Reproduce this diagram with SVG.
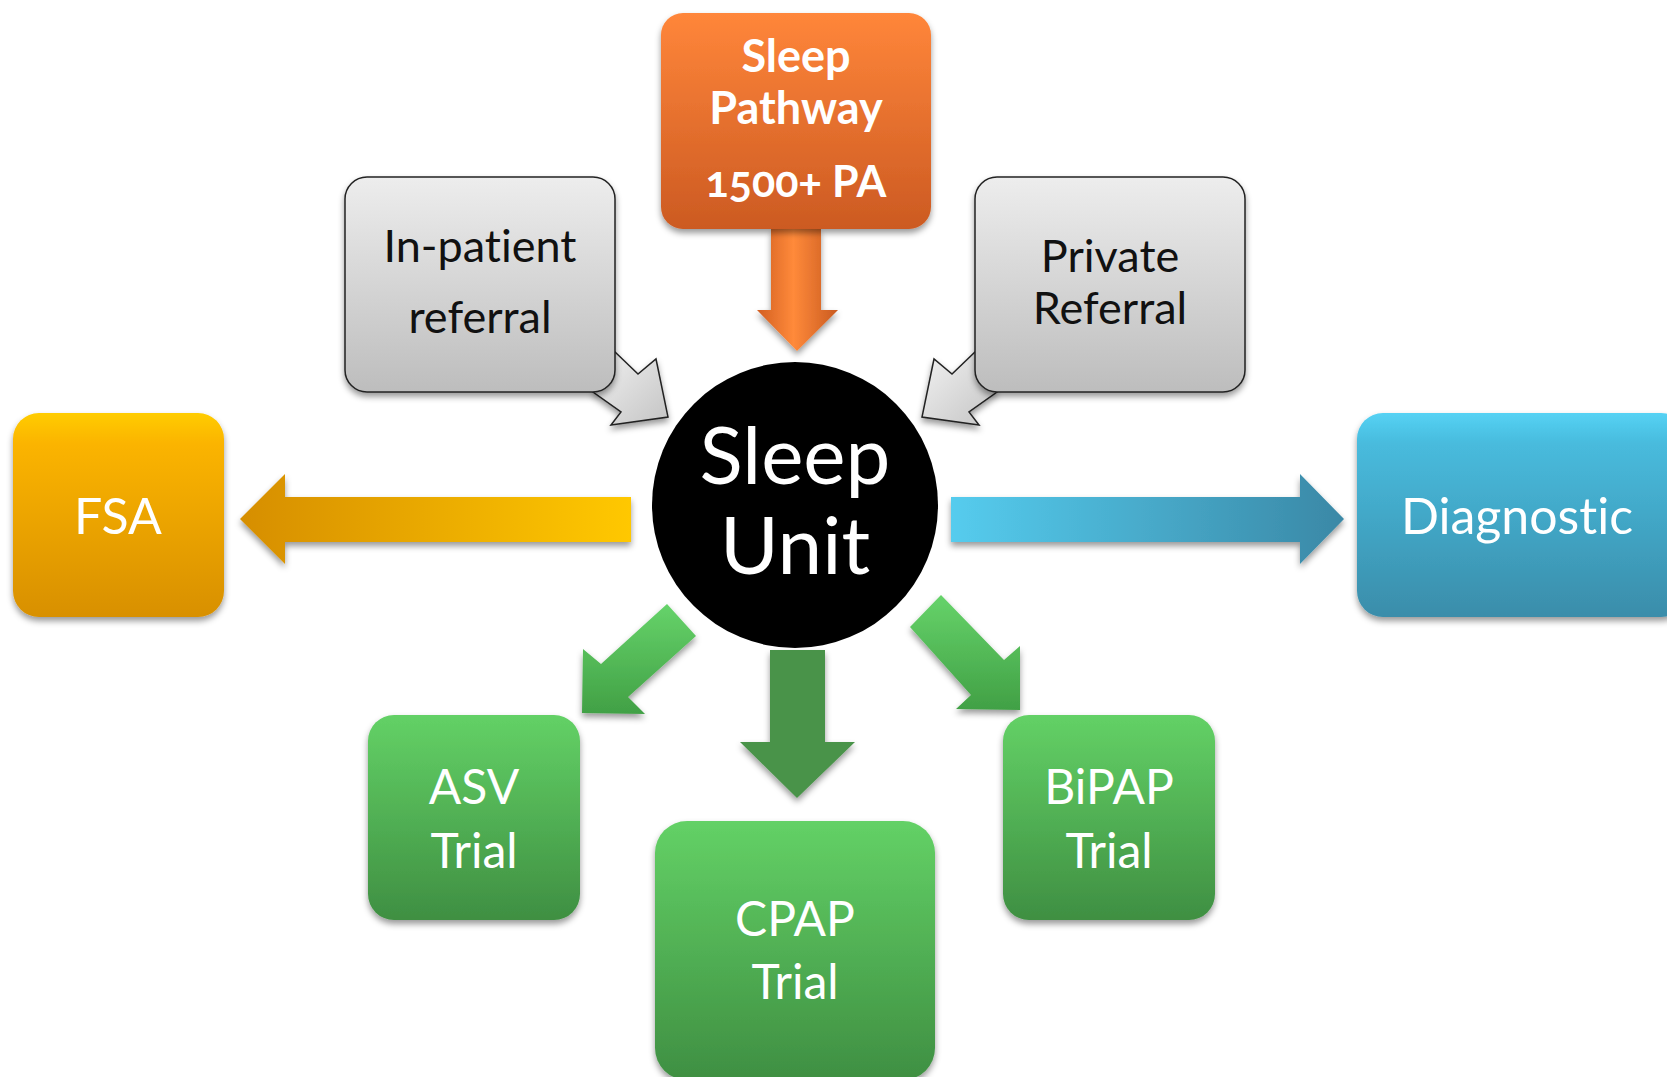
<svg xmlns="http://www.w3.org/2000/svg" width="1667" height="1077" viewBox="0 0 1667 1077">
  <defs>
    <linearGradient id="gOrange" x1="0" y1="0" x2="0" y2="1">
      <stop offset="0" stop-color="#FF863A"/>
      <stop offset="1" stop-color="#CC5A22"/>
    </linearGradient>
    <linearGradient id="gOrangeArrow" x1="0" y1="0" x2="1" y2="0">
      <stop offset="0" stop-color="#D25E22"/>
      <stop offset="0.45" stop-color="#FF8A3A"/>
      <stop offset="1" stop-color="#C95A20"/>
    </linearGradient>
    <linearGradient id="gGray" x1="0" y1="0" x2="0" y2="1">
      <stop offset="0" stop-color="#EDEDED"/>
      <stop offset="1" stop-color="#BDBDBD"/>
    </linearGradient>
    <linearGradient id="gGrayArrow" x1="0" y1="0" x2="1" y2="1">
      <stop offset="0" stop-color="#F2F2F2"/>
      <stop offset="1" stop-color="#C4C4C4"/>
    </linearGradient>
    <linearGradient id="gGold" x1="0" y1="0" x2="0" y2="1">
      <stop offset="0" stop-color="#FFCC00"/>
      <stop offset="0.15" stop-color="#FBB400"/>
      <stop offset="1" stop-color="#D89000"/>
    </linearGradient>
    <linearGradient id="gGoldArrow" x1="0" y1="0" x2="1" y2="0">
      <stop offset="0" stop-color="#D68E00"/>
      <stop offset="1" stop-color="#FFC800"/>
    </linearGradient>
    <linearGradient id="gBlue" x1="0" y1="0" x2="0" y2="1">
      <stop offset="0" stop-color="#55D2F4"/>
      <stop offset="0.15" stop-color="#48BBDD"/>
      <stop offset="1" stop-color="#3A8DAA"/>
    </linearGradient>
    <linearGradient id="gBlueArrow" x1="0" y1="0" x2="1" y2="0">
      <stop offset="0" stop-color="#55CCEE"/>
      <stop offset="1" stop-color="#3A88A6"/>
    </linearGradient>
    <linearGradient id="gGreen" x1="0" y1="0" x2="0" y2="1">
      <stop offset="0" stop-color="#63D166"/>
      <stop offset="1" stop-color="#3F8F42"/>
    </linearGradient>
    <linearGradient id="gGreenDiag" x1="0" y1="0" x2="0" y2="1">
      <stop offset="0" stop-color="#66D36A"/>
      <stop offset="1" stop-color="#41A045"/>
    </linearGradient>
    <filter id="shadow" x="-20%" y="-20%" width="140%" height="140%">
      <feDropShadow dx="0" dy="4" stdDeviation="3" flood-color="#000" flood-opacity="0.4"/>
    </filter>
  </defs>
  <style>
    .lbl { font-family: Lato, "Liberation Sans", sans-serif; text-anchor: middle; font-variant-ligatures: none; }
    .white { fill: #FFFFFF; }
    .dark { fill: #111111; }
    .gray { stroke: #222; stroke-width: 1.5; }
    .bold { font-weight: 700; }
  </style>
  <rect width="1667" height="1077" fill="#FFFFFF"/>

  <!-- connectors -->
  <g id="connectors" filter="url(#shadow)">
    <!-- pathway into the unit -->
    <polygon points="771,229 821,229 821,310 838,310 797,351 757,310 771,310" fill="url(#gOrangeArrow)"/>
    <!-- referral callout pointers -->
    <polygon points="614,351 638,374 656,359 668,417 611,425 621,412 593,392" fill="url(#gGrayArrow)" class="gray"/>
    <polygon points="976,351 952,374 934,359 922,417 979,425 969,412 997,392" fill="url(#gGrayArrow)" class="gray"/>
    <!-- outputs -->
    <polygon points="631,497 631,542 285,542 285,564 240,519 285,474 285,497" fill="url(#gGoldArrow)"/>
    <polygon points="951,497 951,542 1300,542 1300,564 1344,519 1300,474 1300,497" fill="url(#gBlueArrow)"/>
    <polygon points="770,650 825,650 825,742 855,742 797,798 740,742 770,742" fill="#4A934A"/>
    <polygon points="667,604 696,636 628,697 645,714 582,713 583,649 601,664" fill="url(#gGreenDiag)"/>
    <polygon points="941,595 910,627 971,695 956,709 1020,710 1020,646 1004,660" fill="url(#gGreenDiag)"/>
  </g>

  <!-- Sleep Pathway -->
  <g id="node-pathway">
    <rect x="661" y="13" width="270" height="216" rx="22" fill="url(#gOrange)" filter="url(#shadow)"/>
    <text class="lbl white bold" font-size="45" x="796" y="72">Sleep</text>
    <text class="lbl white bold" font-size="45" x="796" y="124">Pathway</text>
    <text class="lbl white bold" font-size="43" x="796" y="197" style="font-variant-numeric: oldstyle-nums">1500+ PA</text>
  </g>

  <!-- In-patient referral -->
  <g id="node-inpatient">
    <rect x="345" y="177" width="270" height="215" rx="22" fill="url(#gGray)" class="gray" filter="url(#shadow)"/>
    <text class="lbl dark" font-size="45" x="480" y="262">In-patient</text>
    <text class="lbl dark" font-size="45" x="480" y="333">referral</text>
  </g>

  <!-- Private Referral -->
  <g id="node-private">
    <rect x="975" y="177" width="270" height="215" rx="22" fill="url(#gGray)" class="gray" filter="url(#shadow)"/>
    <text class="lbl dark" font-size="45" x="1110" y="272">Private</text>
    <text class="lbl dark" font-size="45" x="1110" y="324">Referral</text>
  </g>

  <!-- Sleep Unit -->
  <g id="node-unit">
    <circle cx="795" cy="505" r="143" fill="#000000"/>
    <text class="lbl white" font-size="80" x="795" y="484">Sleep</text>
    <text class="lbl white" font-size="80" x="795" y="574">Unit</text>
  </g>

  <!-- FSA -->
  <g id="node-fsa">
    <rect x="13" y="413" width="211" height="204" rx="26" fill="url(#gGold)" filter="url(#shadow)"/>
    <text class="lbl white" font-size="50" x="118" y="534">FSA</text>
  </g>

  <!-- Diagnostic -->
  <g id="node-diagnostic">
    <rect x="1357" y="413" width="330" height="204" rx="26" fill="url(#gBlue)" filter="url(#shadow)"/>
    <text class="lbl white" font-size="50" x="1517" y="534">Diagnostic</text>
  </g>

  <!-- ASV Trial -->
  <g id="node-asv">
    <rect x="368" y="715" width="212" height="205" rx="26" fill="url(#gGreen)" filter="url(#shadow)"/>
    <text class="lbl white" font-size="48" x="474" y="804">ASV</text>
    <text class="lbl white" font-size="48" x="474" y="868">Trial</text>
  </g>

  <!-- CPAP Trial -->
  <g id="node-cpap">
    <rect x="655" y="821" width="280" height="259" rx="32" fill="url(#gGreen)" filter="url(#shadow)"/>
    <text class="lbl white" font-size="48" x="795" y="936">CPAP</text>
    <text class="lbl white" font-size="48" x="795" y="999">Trial</text>
  </g>

  <!-- BiPAP Trial -->
  <g id="node-bipap">
    <rect x="1003" y="715" width="212" height="205" rx="26" fill="url(#gGreen)" filter="url(#shadow)"/>
    <text class="lbl white" font-size="48" x="1109" y="804">BiPAP</text>
    <text class="lbl white" font-size="48" x="1109" y="868">Trial</text>
  </g>
</svg>
